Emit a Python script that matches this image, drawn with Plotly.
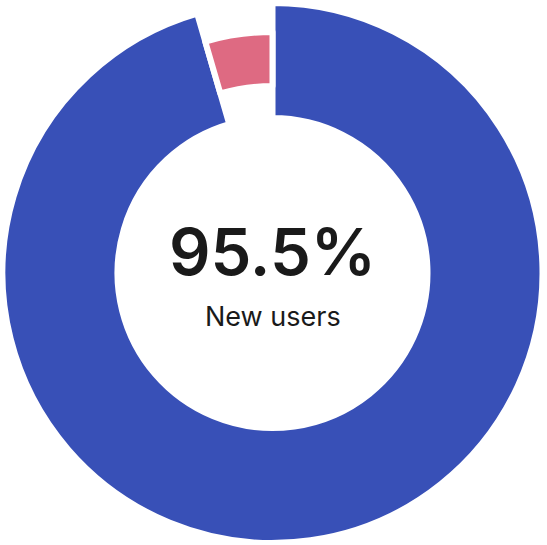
import plotly.graph_objects as go

labels = ["New users", "Returning users"]
values = [95.5, 4.5]
center_value = "95.5%"
center_label = "New users"

BLUE = "#3850B7"
PINK = "#DE6A82"
W, H = 547, 545

cx, cy_top = 272.5, 273.0
R_out, R_in = 270.0, 155.0
P_out, P_in = 241.0, 187.0

def dom(r):
    cy = H - cy_top
    return dict(x=[(cx - r) / W, (cx + r) / W], y=[(cy - r) / H, (cy + r) / H])

fig = go.Figure()
fig.add_trace(go.Pie(
    labels=labels, values=values, sort=False, direction="clockwise", rotation=0,
    hole=R_in / R_out, domain=dom(R_out),
    marker=dict(colors=[BLUE, "rgba(0,0,0,0)"],
                line=dict(color="white", width=[6, 0])),
    textinfo="none", hoverinfo="label+percent", showlegend=False,
))
fig.add_trace(go.Pie(
    labels=labels, values=values, sort=False, direction="clockwise", rotation=0,
    hole=P_in / P_out, domain=dom(P_out),
    marker=dict(colors=["rgba(0,0,0,0)", PINK],
                line=dict(color="white", width=[0, 6])),
    textinfo="none", hoverinfo="label+percent", showlegend=False,
))

fig.add_annotation(text=center_value, x=cx / W, y=1 - 251 / H, xref="paper", yref="paper",
                   showarrow=False, font=dict(family="Inter", size=65, color="#1a1a1a", weight=600))
fig.add_annotation(text=center_label, x=cx / W, y=1 - 316 / H, xref="paper", yref="paper",
                   showarrow=False, font=dict(family="Inter", size=27, color="#1a1a1a"))

fig.update_layout(width=W, height=H, margin=dict(l=0, r=0, t=0, b=0),
                  paper_bgcolor="white", plot_bgcolor="white")
fig.write_html("out.html", config={"displayModeBar": False},
               post_script="document.body.style.margin='0';")
